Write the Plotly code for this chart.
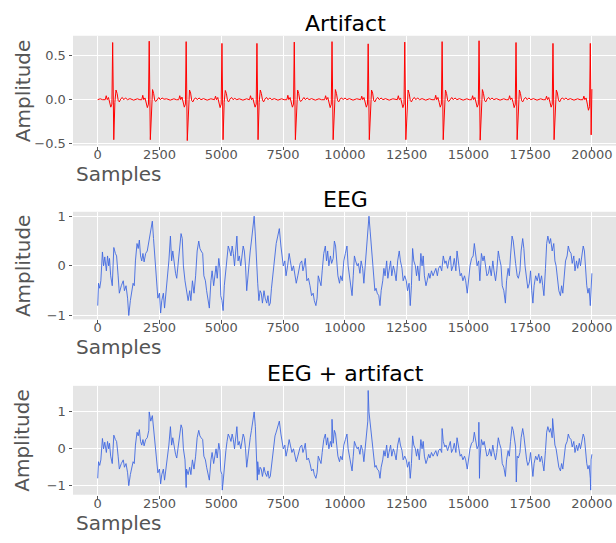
import plotly.graph_objects as go

W, H = 616, 543

# ---------------- data ----------------
x_tick_vals = [0, 2500, 5000, 7500, 10000, 12500, 15000, 17500, 20000]
x_tick_text = ["0", "2500", "5000", "7500", "10000", "12500", "15000", "17500", "20000"]
titles = ["Artifact", "EEG", "EEG + artifact"]

artifact_x = [
    0, 100, 200,
    305, 345, 385, 435, 485, 530, 575, 605, 650, 695, 740, 785, 830, 875, 935, 995, 1055, 1125, 1205, 1305, 1455, 1605, 1705,
    1784, 1824, 1864, 1914, 1964, 2009, 2054, 2084, 2129, 2174, 2219, 2264, 2309, 2354, 2414, 2474, 2534, 2604, 2684, 2784, 2934, 3084, 3184,
    3280, 3320, 3360, 3410, 3460, 3505, 3550, 3580, 3625, 3670, 3715, 3760, 3805, 3850, 3910, 3970, 4030, 4100, 4180, 4280, 4430, 4580, 4680,
    4728, 4768, 4808, 4858, 4908, 4953, 4998, 5028, 5073, 5118, 5163, 5208, 5253, 5298, 5358, 5418, 5478, 5548, 5628, 5728, 5878, 6028, 6128,
    6144, 6184, 6224, 6274, 6324, 6369, 6414, 6444, 6489, 6534, 6579, 6624, 6669, 6714, 6774, 6834, 6894, 6964, 7044, 7144, 7294, 7444, 7544,
    7655, 7695, 7735, 7785, 7835, 7880, 7925, 7955, 8000, 8045, 8090, 8135, 8180, 8225, 8285, 8345, 8405, 8475, 8555, 8655, 8805, 8955, 9055,
    9183, 9223, 9263, 9313, 9363, 9408, 9453, 9483, 9528, 9573, 9618, 9663, 9708, 9753, 9813, 9873, 9933, 10003, 10083, 10183, 10333, 10483, 10583,
    10646, 10686, 10726, 10776, 10826, 10871, 10916, 10946, 10991, 11036, 11081, 11126, 11171, 11216, 11276, 11336, 11396, 11466, 11546, 11646, 11796, 11946, 12046,
    12126, 12166, 12206, 12256, 12306, 12351, 12396, 12426, 12471, 12516, 12561, 12606, 12651, 12696, 12756, 12816, 12876, 12946, 13026, 13126, 13276, 13426, 13526,
    13638, 13678, 13718, 13768, 13818, 13863, 13908, 13938, 13983, 14028, 14073, 14118, 14163, 14208, 14268, 14328, 14388, 14458, 14538, 14638, 14788, 14938, 15038,
    15133, 15173, 15213, 15263, 15313, 15358, 15403, 15433, 15478, 15523, 15568, 15613, 15658, 15703, 15763, 15823, 15883, 15953, 16033, 16133, 16283, 16433, 16533,
    16629, 16669, 16709, 16759, 16809, 16854, 16899, 16929, 16974, 17019, 17064, 17109, 17154, 17199, 17259, 17319, 17379, 17449, 17529, 17629, 17779, 17929, 18029,
    18124, 18164, 18204, 18254, 18304, 18349, 18394, 18424, 18469, 18514, 18559, 18604, 18649, 18694, 18754, 18814, 18874, 18944, 19024, 19124, 19274, 19424, 19524,
    19635, 19675, 19715, 19765, 19815, 19860, 19905, 19935, 19970, 19999,
]
artifact_y = [
    0.0, 0.01, 0.0,
    0.0, 0.045, 0.0, 0.025, -0.03, -0.085, -0.05, 0.65, -0.455, -0.03, 0.11, 0.07, -0.01, -0.025, 0.01, 0.025, 0.0, 0.02, 0.0, 0.012, -0.005, 0.01, 0.0,
    0.0, 0.05, 0.0, 0.02, -0.03, -0.09, -0.05, 0.665, -0.455, -0.03, 0.115, 0.07, -0.01, -0.02, 0.01, 0.025, 0.0, 0.02, 0.005, 0.01, -0.005, 0.01, 0.0,
    0.0, 0.045, 0.0, 0.03, -0.025, -0.085, -0.05, 0.66, -0.465, -0.03, 0.11, 0.075, -0.01, -0.025, 0.01, 0.02, 0.0, 0.02, 0.0, 0.012, -0.005, 0.01, 0.0,
    0.0, 0.04, 0.0, 0.025, -0.03, -0.09, -0.05, 0.64, -0.455, -0.03, 0.105, 0.07, -0.01, -0.025, 0.01, 0.025, 0.0, 0.015, 0.0, 0.01, -0.005, 0.01, 0.0,
    0.0, 0.045, 0.0, 0.02, -0.03, -0.085, -0.05, 0.64, -0.455, -0.03, 0.11, 0.07, -0.005, -0.025, 0.01, 0.025, 0.0, 0.02, 0.0, 0.012, -0.005, 0.01, 0.0,
    0.0, 0.05, 0.0, 0.025, -0.03, -0.085, -0.05, 0.655, -0.455, -0.03, 0.11, 0.07, -0.01, -0.02, 0.01, 0.025, 0.0, 0.02, 0.0, 0.012, -0.005, 0.01, 0.0,
    0.0, 0.045, 0.0, 0.025, -0.025, -0.09, -0.05, 0.66, -0.455, -0.03, 0.115, 0.07, -0.01, -0.025, 0.01, 0.02, 0.0, 0.02, 0.0, 0.012, -0.005, 0.01, 0.0,
    0.0, 0.04, 0.0, 0.025, -0.03, -0.085, -0.05, 0.635, -0.455, -0.03, 0.11, 0.075, -0.01, -0.025, 0.01, 0.025, 0.0, 0.02, 0.0, 0.012, -0.005, 0.01, 0.0,
    0.0, 0.045, 0.0, 0.02, -0.03, -0.09, -0.05, 0.655, -0.455, -0.03, 0.11, 0.07, -0.01, -0.025, 0.01, 0.025, 0.0, 0.02, 0.0, 0.012, -0.005, 0.01, 0.0,
    0.0, 0.05, 0.0, 0.025, -0.03, -0.085, -0.05, 0.66, -0.455, -0.03, 0.11, 0.07, -0.01, -0.02, 0.01, 0.025, 0.0, 0.02, 0.0, 0.012, -0.005, 0.01, 0.0,
    0.0, 0.045, 0.0, 0.025, -0.03, -0.085, -0.05, 0.67, -0.46, -0.03, 0.115, 0.07, -0.01, -0.025, 0.01, 0.025, 0.0, 0.02, 0.0, 0.012, -0.005, 0.01, 0.0,
    0.0, 0.045, 0.0, 0.02, -0.03, -0.09, -0.05, 0.65, -0.455, -0.03, 0.11, 0.07, -0.01, -0.025, 0.01, 0.025, 0.0, 0.02, 0.0, 0.012, -0.005, 0.01, 0.0,
    0.0, 0.04, 0.0, 0.025, -0.03, -0.085, -0.05, 0.64, -0.455, -0.03, 0.11, 0.075, -0.01, -0.025, 0.01, 0.02, 0.0, 0.02, 0.0, 0.012, -0.005, 0.01, 0.0,
    0.0, 0.04, 0.0, 0.02, -0.05, -0.12, -0.08, 0.64, -0.40, 0.12,
]

eeg_x = [
    0, 32, 80, 127, 191, 239, 286, 350, 398, 445, 477, 525, 589, 652, 716, 764, 827, 875, 955, 1034,
    1082, 1146, 1209, 1257, 1321, 1384, 1432, 1480, 1527, 1591, 1639, 1686, 1734, 1782, 1830, 1877, 1941, 2005, 2068, 2148,
    2211, 2259, 2323, 2371, 2434, 2498, 2546, 2593, 2657, 2705, 2768, 2832, 2880, 2943, 2991, 3039, 3102, 3150, 3198, 3262,
    3325, 3373, 3421, 3468, 3532, 3596, 3659, 3723, 3771, 3834, 3898, 3962, 4025, 4089, 4137, 4184, 4248, 4296, 4359, 4407,
    4471, 4518, 4582, 4630, 4693, 4741, 4789, 4837, 4900, 4948, 4980, 5028, 5075, 5123, 5187, 5234, 5282, 5346, 5393, 5441,
    5489, 5537, 5584, 5632, 5680, 5728, 5791, 5839, 5887, 5934, 5982, 6030, 6078, 6125, 6173, 6221, 6284, 6332, 6380, 6428,
    6475, 6523, 6571, 6619, 6666, 6730, 6778, 6841, 6889, 6937, 6984, 7032, 7080, 7128, 7175, 7223, 7287, 7350, 7414, 7462,
    7510, 7573, 7621, 7685, 7748, 7796, 7860, 7923, 7987, 8035, 8098, 8146, 8194, 8257, 8305, 8353, 8400, 8464, 8528, 8591,
    8655, 8719, 8766, 8830, 8878, 8926, 8989, 9037, 9085, 9148, 9212, 9260, 9307, 9355, 9419, 9466, 9530, 9578, 9626, 9673,
    9721, 9785, 9832, 9896, 9960, 10023, 10087, 10135, 10182, 10230, 10294, 10342, 10389, 10437, 10501, 10548, 10612, 10660, 10723, 10771,
    10819, 10882, 10930, 10978, 11026, 11073, 11121, 11169, 11217, 11264, 11312, 11376, 11423, 11471, 11535, 11582, 11630, 11694, 11742, 11789,
    11853, 11901, 11964, 12012, 12076, 12139, 12203, 12251, 12314, 12362, 12426, 12489, 12537, 12601, 12648, 12696, 12744, 12792, 12855, 12903,
    12951, 13014, 13078, 13126, 13173, 13221, 13285, 13333, 13396, 13444, 13507, 13571, 13635, 13683, 13746, 13794, 13858, 13921, 13985, 14049,
    14096, 14160, 14208, 14271, 14319, 14383, 14430, 14494, 14542, 14605, 14669, 14717, 14780, 14844, 14892, 14955, 15003, 15067, 15130, 15194,
    15242, 15305, 15353, 15417, 15465, 15528, 15592, 15640, 15703, 15751, 15814, 15862, 15926, 15990, 16037, 16101, 16149, 16212, 16260, 16324,
    16371, 16435, 16499, 16546, 16610, 16658, 16706, 16769, 16817, 16865, 16912, 16976, 17024, 17087, 17135, 17199, 17246, 17294, 17358, 17406,
    17469, 17517, 17565, 17612, 17660, 17724, 17787, 17851, 17899, 17962, 18010, 18058, 18121, 18169, 18217, 18281, 18328, 18392, 18456, 18503,
    18551, 18615, 18662, 18726, 18774, 18822, 18885, 18933, 18997, 19044, 19092, 19156, 19203, 19267, 19315, 19378, 19426, 19490, 19537, 19601,
    19649, 19697, 19744, 19792, 19840, 19888, 19935, 19967, 19999,
]
eeg_y = [
    -0.8, -0.35, -0.45, -0.3, 0.28, 0.0, 0.18, -0.1, 0.2, 0.0, 0.15, -0.2, -0.4, 0.37, 0.25, 0.2, -0.2, -0.55, -0.4, -0.3,
    -0.5, -0.4, -0.65, -1.0, -0.7, -0.5, -0.35, -0.4, 0.1, 0.45, 0.35, 0.52, 0.2, 0.1, 0.25, 0.08, 0.25, 0.3, 0.5, 0.75,
    0.9, 0.55, 0.1, -0.4, -0.65, -0.55, -0.95, -0.7, -0.55, -0.85, -0.5, -0.2, 0.1, 0.6, 0.1, 0.3, 0.0, -0.15, -0.25, 0.05,
    0.3, 0.65, 0.55, 0.0, -0.3, -0.55, -0.7, -0.5, -0.7, -0.3, -0.55, -0.2, 0.3, 0.5, 0.35, 0.3, 0.25, -0.2, -0.3, -0.5,
    -0.7, -0.85, -0.3, -0.1, -0.4, -0.2, 0.0, -0.25, 0.15, -0.05, -0.6, -0.7, -0.9, -0.4, -0.05, 0.2, 0.4, 0.3, 0.2, 0.4,
    0.25, 0.0, 0.35, 0.6, 0.1, 0.2, 0.0, 0.2, 0.4, 0.3, 0.0, -0.5, -0.2, 0.1, 0.3, 0.5, 0.85, 1.0, 0.6, -0.1,
    -0.35, -0.7, -0.5, -0.55, -0.75, -0.5, -0.65, -0.75, -0.6, -0.8, -0.75, -0.45, -0.2, 0.1, 0.35, 0.45, 0.6, 0.75, 0.4, 0.2,
    0.0, 0.1, -0.2, 0.0, 0.25, 0.1, -0.1, 0.0, -0.2, -0.35, -0.2, -0.1, 0.05, 0.1, -0.1, 0.0, 0.15, -0.3, -0.25, -0.4,
    -0.6, -0.55, -0.7, -0.8, -0.65, -0.2, -0.3, -0.4, -0.1, 0.25, 0.4, 0.1, 0.3, 0.0, 0.2, 0.05, 0.15, 0.5, 0.4, 0.1,
    -0.2, -0.35, -0.2, -0.3, 0.1, 0.25, 0.4, 0.0, -0.2, -0.4, -0.6, -0.2, 0.2, 0.1, 0.0, 0.05, -0.15, 0.1, -0.05, -0.35,
    0.0, 0.25, 0.75, 1.0, 0.7, 0.4, 0.2, -0.2, -0.5, -0.45, -0.55, -0.6, -0.8, -0.5, -0.3, -0.05, -0.2, 0.1, -0.25, -0.1,
    0.1, -0.2, 0.0, -0.1, -0.3, 0.1, 0.3, 0.1, -0.05, -0.3, -0.2, -0.3, -0.5, -0.35, -0.8, -0.4, 0.35, 0.1, 0.0, -0.2,
    0.0, -0.3, 0.25, 0.0, 0.2, -0.2, -0.4, -0.3, -0.15, -0.25, -0.1, -0.2, -0.1, -0.05, -0.2, -0.05, 0.0, -0.1, 0.2, 0.05,
    0.1, -0.05, 0.1, 0.2, -0.1, 0.0, 0.15, -0.1, 0.3, 0.0, -0.2, -0.15, -0.3, -0.2, -0.3, -0.55, -0.3, 0.0, 0.15, 0.2,
    0.45, 0.15, 0.0, 0.1, -0.3, 0.25, 0.1, 0.2, 0.0, -0.2, -0.15, 0.0, -0.2, 0.1, -0.1, -0.3, -0.1, 0.3, 0.15, 0.0,
    -0.4, -0.5, -0.75, -0.3, -0.05, -0.2, 0.2, 0.6, 0.5, 0.2, 0.05, -0.2, -0.25, -0.1, 0.3, 0.55, 0.35, 0.0, -0.3, -0.45,
    -0.35, -0.1, -0.5, -0.75, -0.4, -0.2, -0.3, -0.15, -0.35, -0.2, -0.4, -0.6, -0.05, 0.45, 0.6, 0.45, 0.55, 0.3, 0.45, 0.1,
    0.0, -0.3, -0.5, -0.6, -0.4, -0.55, -0.2, 0.1, 0.2, 0.4, 0.3, 0.25, 0.05, 0.2, -0.1, 0.1, -0.05, 0.15, 0.0, 0.25,
    0.4, 0.3, -0.1, -0.4, -0.55, -0.45, -0.8, -0.3, -0.15,
]

# extra points where the artifact spikes show through in the mixed signal
mix_spike_x = [2084, 3580, 5040, 6460, 9483, 10946, 13938, 15425, 15450, 16940, 18410, 19950]
mix_spike_y = [1.0, -1.05, -1.12, -0.85, 0.8, 1.58, 0.55, 0.72, -0.8, -0.9, 0.82, -1.12]

mix_pairs = sorted(zip(eeg_x + mix_spike_x, eeg_y + mix_spike_y))
mix_x = [p[0] for p in mix_pairs]
mix_y = [p[1] for p in mix_pairs]

# ---------------- figure ----------------
FONT = "DejaVu Sans"
GRAY = "#555555"

fig = go.Figure()
fig.add_trace(go.Scatter(x=artifact_x, y=artifact_y, mode="lines",
                         line=dict(color="red", width=1), xaxis="x", yaxis="y"))
fig.add_trace(go.Scatter(x=eeg_x, y=eeg_y, mode="lines",
                         line=dict(color="royalblue", width=0.9), xaxis="x2", yaxis="y2"))
fig.add_trace(go.Scatter(x=mix_x, y=mix_y, mode="lines",
                         line=dict(color="royalblue", width=0.9), xaxis="x3", yaxis="y3"))

def px_x(p):
    return p / W

def px_y(p):
    return 1 - p / H

# panel pixel boxes (top, bottom)
panels = [(33.3, 145.0), (212.3, 321.7), (389.3, 500.0)]
yranges = [[-0.522, 0.727], [-1.077, 1.089], [-1.245, 1.707]]
ytickvals = [[-0.5, 0.0, 0.5], [-1, 0, 1], [-1, 0, 1]]
yticktext = [["\u22120.5", "0.0", "0.5"], ["\u22121", "0", "1"], ["\u22121", "0", "1"]]

xdom = [px_x(73), 1.0]
xrange_ = [-1000, 20975]

layout = dict(
    width=W, height=H,
    margin=dict(l=0, r=0, t=0, b=0, pad=0),
    paper_bgcolor="white",
    plot_bgcolor="#E5E5E5",
    showlegend=False,
    font=dict(family=FONT, color=GRAY),
)

axis_common = dict(
    showgrid=True, gridcolor="white", gridwidth=1,
    zeroline=False, showline=False,
    ticks="outside", ticklen=3.5, tickwidth=1, tickcolor=GRAY,
    tickfont=dict(family=FONT, size=13, color=GRAY),
)

annotations = []
for i, (top, bot) in enumerate(panels):
    suf = "" if i == 0 else str(i + 1)
    layout["xaxis" + suf] = dict(
        domain=xdom, range=xrange_, anchor="y" + suf,
        tickmode="array", tickvals=x_tick_vals, ticktext=x_tick_text,
        ticklabelstandoff=-7,
        **axis_common)
    layout["yaxis" + suf] = dict(
        domain=[px_y(bot), px_y(top)], range=yranges[i], anchor="x" + suf,
        tickmode="array", tickvals=ytickvals[i], ticktext=yticktext[i],
        **axis_common)
    # title
    annotations.append(dict(
        text=titles[i], xref="paper", yref="paper",
        x=px_x(345), y=px_y(top - 12.5), xanchor="center", yanchor="middle",
        showarrow=False, font=dict(family=FONT, size=22, color="black")))
    # x label
    annotations.append(dict(
        text="Samples", xref="paper", yref="paper",
        x=px_x(74), y=px_y(bot + 28.5), xanchor="left", yanchor="middle",
        showarrow=False, font=dict(family=FONT, size=20, color=GRAY)))
    # y label
    annotations.append(dict(
        text="Amplitude", xref="paper", yref="paper", textangle=-90,
        x=px_x(22.5), y=px_y((top + bot) / 2), xanchor="center", yanchor="middle",
        showarrow=False, font=dict(family=FONT, size=20, color=GRAY)))

layout["annotations"] = annotations
fig.update_layout(**layout)

fig.write_html("out.html")
